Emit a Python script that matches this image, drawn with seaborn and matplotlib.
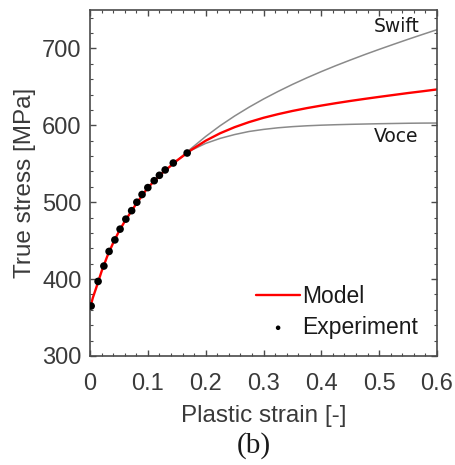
import numpy as np
import pandas as pd
import seaborn as sns
from matplotlib import pyplot as plt
from matplotlib.ticker import MultipleLocator

# experiment points
exp_strain = [0.002, 0.014, 0.024, 0.033, 0.043, 0.052, 0.062, 0.072, 0.081, 0.090,
              0.100, 0.111, 0.120, 0.130, 0.144, 0.168]
exp_stress = [365, 397, 417, 436, 451, 465, 478, 489, 500, 510,
              519, 528, 535, 542, 551, 564]

# fitted model (red)
model_strain = [0, 0.005, 0.01, 0.02, 0.03, 0.04, 0.05, 0.06, 0.08, 0.1, 0.125, 0.15,
                0.175, 0.2, 0.225, 0.25, 0.275, 0.3, 0.325, 0.35, 0.375, 0.4,
                0.425, 0.45, 0.475, 0.5, 0.525, 0.55, 0.575, 0.6]
model_stress = [362, 376, 387, 410, 430, 447, 462, 475, 498, 519, 538, 554,
                568, 580, 589.7, 597.6, 604.2, 609.8, 614.5, 618.7, 622.4, 625.7,
                628.8, 631.7, 634.4, 637, 639.5, 642, 644.3, 646.7]

# Swift and Voce extrapolations (grey)
ext_strain = [0.15, 0.175, 0.2, 0.225, 0.25, 0.275, 0.3, 0.325, 0.35, 0.375, 0.4,
              0.425, 0.45, 0.475, 0.5, 0.525, 0.55, 0.575, 0.6]
swift_stress = [554, 570, 585.5, 599.5, 612.1, 623.6, 634.2, 644, 653.2, 661.8, 669.9,
                677.6, 684.9, 692, 698.8, 705.4, 711.9, 718.2, 724.4]
voce_stress = [554, 567.5, 576.5, 583, 588, 592, 594.7, 596.8, 598.3, 599.4, 600.2,
               600.8, 601.3, 601.7, 602.1, 602.4, 602.7, 602.9, 603]

xticks = [0, 0.1, 0.2, 0.3, 0.4, 0.5, 0.6]
xticklabels = ['0', '0.1', '0.2', '0.3', '0.4', '0.5', '0.6']
yticks = [300, 400, 500, 600, 700]

sns.set_style('ticks')
plt.rcParams['font.family'] = ['Liberation Sans', 'DejaVu Sans']

fig = plt.figure(figsize=(4.55, 4.65), dpi=100)
ax = fig.add_axes([90 / 455, 1 - 356 / 465, 347 / 455, 346 / 465])

grey = '#8a8a8a'
sns.lineplot(x=ext_strain, y=swift_stress, color=grey, linewidth=1.1, ax=ax, legend=False)
sns.lineplot(x=ext_strain, y=voce_stress, color=grey, linewidth=1.1, ax=ax, legend=False)
sns.lineplot(x=model_strain, y=model_stress, color='#ff0000', linewidth=1.7, ax=ax, label='Model')
sns.scatterplot(x=exp_strain, y=exp_stress, color='black', s=30, edgecolor='none',
                ax=ax, label='Experiment', zorder=5)

ax.set_xlim(0, 0.6)
ax.set_ylim(300, 750)
ax.set_xticks(xticks)
ax.set_xticklabels(xticklabels)
ax.set_yticks(yticks)
ax.xaxis.set_minor_locator(MultipleLocator(0.02))
ax.yaxis.set_minor_locator(MultipleLocator(20))

spine_col = '#4a4a4a'
for s in ax.spines.values():
    s.set_visible(True)
    s.set_color(spine_col)
    s.set_linewidth(1.2)
ax.tick_params(which='both', direction='in', top=True, right=True, colors=spine_col,
               labelcolor='#3a3a3a', labelsize=17)
ax.tick_params(which='major', length=4, width=1.0)
ax.tick_params(which='minor', length=2.5, width=0.8)
ax.tick_params(axis='x', pad=12)
ax.tick_params(axis='y', pad=6)

ax.set_xlabel('Plastic strain [-]', fontsize=17.5, color='#3a3a3a')
ax.set_ylabel('True stress [MPa]', fontsize=17.5, color='#3a3a3a')
ax.xaxis.set_label_coords(0.5, -0.142)
ax.yaxis.set_label_coords(-0.155, 0.5)

ax.text(0.53, 729, 'Swift', family='DejaVu Sans', fontsize=13.5, ha='center', va='center', color='#1a1a1a')
ax.text(0.53, 585, 'Voce', family='DejaVu Sans', fontsize=13.5, ha='center', va='center', color='#1a1a1a')

leg = ax.legend(loc='lower right', bbox_to_anchor=(0.985, 0.01), frameon=False, fontsize=16.5,
                handlelength=1.9, handletextpad=0.1, labelspacing=0.35, markerscale=0.6,
                borderaxespad=0.2)
for t in leg.get_texts():
    t.set_color('#1a1a1a')

fig.text(254 / 455, 1 - 446 / 465, '(b)', family='Liberation Serif', fontsize=21,
         ha='center', va='center', color='#1a1a1a')

fig.savefig('out.png', dpi=100)
